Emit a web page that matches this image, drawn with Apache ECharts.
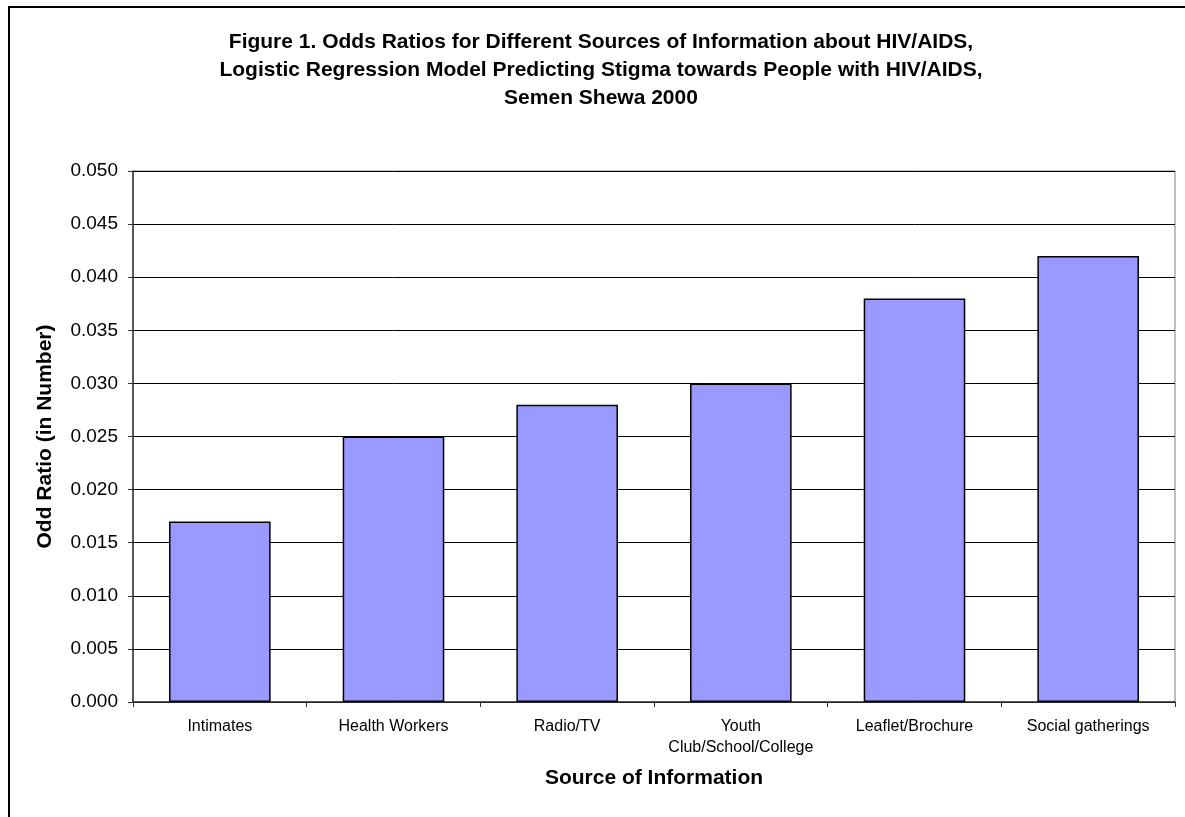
<!DOCTYPE html>
<html>
<head>
<meta charset="utf-8">
<script src="https://cdn.jsdelivr.net/npm/echarts@6/dist/echarts.min.js"></script>
<style>
  html, body { margin: 0; padding: 0; background: #fff; }
  #chart { width: 1185px; height: 817px; }
</style>
</head>
<body>
<div id="chart"></div>
<script>
// data
var sources = ['Intimates', 'Health Workers', 'Radio/TV', 'Youth\nClub/School/College', 'Leaflet/Brochure', 'Social gatherings'];
var oddRatios = [0.017, 0.025, 0.028, 0.030, 0.038, 0.042];
var titleLines = [
  'Figure 1. Odds Ratios for Different Sources of Information about HIV/AIDS,',
  'Logistic Regression Model Predicting Stigma towards People with HIV/AIDS,',
  'Semen Shewa 2000'
];

var chart = echarts.init(document.getElementById('chart'));
var font = '"Liberation Sans", Arial, sans-serif';

var option = {
  backgroundColor: '#fff',
  animation: false,
  textStyle: { fontFamily: font },
  title: {
    text: titleLines.join('\n'),
    left: 601,
    textAlign: 'center',
    top: 28,
    padding: 0,
    textStyle: { fontFamily: font, fontSize: 21, fontWeight: 'bold', color: '#000', lineHeight: 28 }
  },
  graphic: [{
    type: 'rect',
    shape: { x: 9, y: 7, width: 1200, height: 900 },
    style: { fill: 'none', stroke: '#000', lineWidth: 2 },
    silent: true
  }],
  grid: {
    left: 133, right: 10, top: 171, bottom: 115, containLabel: false,
    show: true, borderColor: '#808080', borderWidth: 1
  },
  xAxis: {
    type: 'category',
    data: sources,
    name: 'Source of Information',
    nameLocation: 'middle',
    nameGap: 66,
    nameTextStyle: { fontFamily: font, fontSize: 21, fontWeight: 'bold', color: '#000' },
    axisLine: { lineStyle: { color: '#333', width: 1.5 } },
    axisTick: { show: true, length: 5, inside: false, lineStyle: { color: '#333' } },
    axisLabel: { fontFamily: font, fontSize: 16, color: '#000', lineHeight: 21, margin: 14, interval: 0 },
    splitLine: { show: false }
  },
  yAxis: {
    type: 'value',
    min: 0,
    max: 0.05,
    interval: 0.005,
    name: 'Odd Ratio (in Number)',
    nameLocation: 'middle',
    nameGap: 77,
    nameTextStyle: { fontFamily: font, fontSize: 21, fontWeight: 'bold', color: '#000' },
    axisLine: { show: true, lineStyle: { color: '#333', width: 1.5 } },
    axisTick: { show: true, length: 5, lineStyle: { color: '#333' } },
    axisLabel: {
      fontFamily: font, fontSize: 19, color: '#000', margin: 15,
      formatter: function (v) { return v.toFixed(3); }
    },
    splitLine: { show: true, lineStyle: { color: '#000', width: 1 } }
  },
  series: [{
    type: 'bar',
    data: oddRatios,
    barWidth: '58.5%',
    itemStyle: { color: '#9999FF', borderColor: '#000', borderWidth: 1.5 }
  }]
};

chart.setOption(option);
</script>
</body>
</html>
